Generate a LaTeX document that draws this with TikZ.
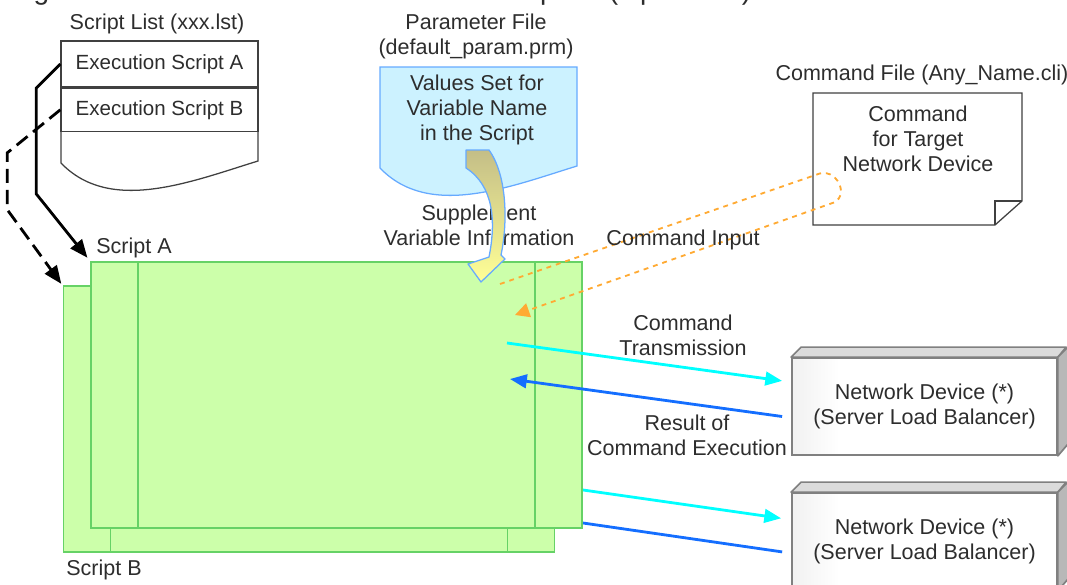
\documentclass[tikz,border=0pt]{standalone}
\usepackage{fontspec}
\setmainfont{Liberation Sans}
\usepackage{xcolor}
\usetikzlibrary{arrows.meta,positioning,calc}

\definecolor{scriptfill}{RGB}{204,255,170}
\definecolor{scriptedge}{RGB}{102,210,102}
\definecolor{paramfill}{RGB}{204,242,255}
\definecolor{paramedge}{RGB}{102,170,255}
\definecolor{sendcol}{RGB}{0,255,255}
\definecolor{recvcol}{RGB}{20,110,255}
\definecolor{cmdcol}{RGB}{255,170,51}
\definecolor{inkcol}{RGB}{45,45,45}
\definecolor{suppltop}{RGB}{196,190,135}
\definecolor{supplbot}{RGB}{255,255,150}

\pgfdeclarehorizontalshading{devshade}{100bp}{color(0bp)=(black!32); color(14bp)=(black!20); color(24bp)=(black!6); color(34bp)=(white); color(100bp)=(white)}

\begin{document}
\begin{tikzpicture}[
  x=0.025cm, y=-0.025cm,
  font=\fontsize{15.3}{17.7}\selectfont,
  text=inkcol,
  note/.style={align=center, inner sep=1pt},
  docline/.style={draw=black!75, line width=0.9pt},
  rowbox/.style={
    draw=black!75,
    line width=0.9pt,
    minimum width=4.925cm,
    inner sep=0pt,
    font=\fontsize{14.6}{17}\selectfont
  },
  scriptbox/.style={
    draw=scriptedge,
    fill=scriptfill,
    line width=1pt,
    minimum width=12.275cm,
    minimum height=6.65cm,
    inner sep=0pt
  },
  scriptline/.style={draw=scriptedge, line width=1pt},
  device/.style={
    draw=black!50,
    line width=1.2pt,
    shade,
    shading=devshade,
    align=center,
    minimum width=6.625cm,
    minimum height=2.425cm,
    inner sep=0pt
  },
  devside/.style={draw=black!50, line width=1.2pt, line join=round},
  listarr/.style={-{Triangle[length=4.5mm,width=3.6mm]}, line width=2pt, draw=black},
  sendarr/.style={-{Triangle[length=4.2mm,width=3.4mm]}, line width=2pt, draw=sendcol},
  recvarr/.style={line width=2pt, draw=recvcol},
  cmdarr/.style={-{Triangle[length=3.6mm,width=3.6mm]}, line width=1.3pt, draw=cmdcol, dash pattern=on 3.5pt off 3.5pt}
]

\useasboundingbox (0,0) rectangle (1067,585);
\clip (0,0) rectangle (1067,585);

\node[anchor=base west, inner sep=0pt, font=\fontsize{20}{24}\selectfont] (title) at (10,-1)
  {Figure 1.4 Structure of an Automation Template (Operation)};

\draw[docline, fill=white] (61,41) -- (258,41) -- (258,161)
  .. controls (190,182) and (110,214) .. (61,163) -- cycle;
\node[note] (listname) at (157,24) {Script List (xxx.lst)};
\node[rowbox, minimum height=1.15cm] (rowA) at (159.5,64) {Execution Script A};
\node[rowbox, minimum height=1.075cm, below=0pt of rowA] (rowB) {Execution Script B};

\draw[docline, draw=paramedge, fill=paramfill] (380,67) -- (577,67) -- (577,166)
  .. controls (509,187) and (429,219) .. (380,168) -- cycle;
\node[note] (paramname) at (476,36) {Parameter File\\(default\_param.prm)};
\node[note] (paramtext) at (477,110) {Values Set for\\Variable Name\\in the Script};

\draw[docline, fill=white] (813,93) -- (1022,93) -- (1022,201) -- (995,225) -- (813,225) -- cycle;
\draw[docline] (995,225) -- (995,201) -- (1022,201);
\node[note] (cmdname) at (922,75) {Command File (Any\_Name.cli)};
\node[note] (cmdtext) at (918,139) {Command\\for Target\\Network Device};

\node[scriptbox] (scrB) at (309,419) {};
\draw[scriptline] ([xshift=1.19cm]scrB.north west) -- ([xshift=1.19cm]scrB.south west);
\draw[scriptline] ([xshift=-1.19cm]scrB.north east) -- ([xshift=-1.19cm]scrB.south east);
\node[scriptbox] (scrA) at (336.5,395) {};
\draw[scriptline] ([xshift=1.19cm]scrA.north west) -- ([xshift=1.19cm]scrA.south west);
\draw[scriptline] ([xshift=-1.19cm]scrA.north east) -- ([xshift=-1.19cm]scrA.south east);
\node[note] (nameA) at (134,248) {Script A};
\node[note] (nameB) at (104,570) {Script B};

\draw[listarr] (rowA.west) -- ++(-24,24) -- ++(0,106) -- ([shift={(-2pt,2.5pt)}]scrA.north west);
\draw[listarr, dash pattern=on 10pt off 5pt] (rowB.west) -- ++(-53,43) -- ++(0,57)
  -- ([shift={(-1pt,1pt)}]scrB.north west);

\node[note] (suppl) at (479,225) {Supplement\\Variable Information};
\draw[draw=paramedge, line width=0.9pt, line join=round, top color=suppltop, bottom color=supplbot]
  (466,150) -- (489,150) .. controls (507,175) and (508,222) .. (501,255) -- (505,259)
  -- (481,282) -- (468,264) -- (489,257) .. controls (496,222) and (494,186) .. (466,168) -- cycle;

\coordinate (cmdfrom) at (500,284);
\coordinate (cmdto) at (515,315);
\draw[cmdarr, rounded corners=0.2cm] (cmdfrom) -- (827,171) -- (841,183) -- (841,200) -- (cmdto);
\node[note] (cmdinput) at (683,240) {Command Input};

\node[device] (dev1) at (924.5,406.5) {Network Device (*)\\(Server Load Balancer)};
\draw[devside, fill=black!14] (dev1.north west) -- ++(10,-10) -- ++(265,0) -- (dev1.north east) -- cycle;
\draw[devside, fill=black!28] (dev1.north east) -- ++(10,-10) -- ++(0,97) -- (dev1.south east) -- cycle;
\node[device] (dev2) at (924.5,541.5) {Network Device (*)\\(Server Load Balancer)};
\draw[devside, fill=black!14] (dev2.north west) -- ++(10,-10) -- ++(265,0) -- (dev2.north east) -- cycle;
\draw[devside, fill=black!28] (dev2.north east) -- ++(10,-10) -- ++(0,97) -- (dev2.south east) -- cycle;

\coordinate (sendA) at (507,343);
\coordinate (recvA) at (510,379);
\coordinate (sendB) at (583,490);
\coordinate (recvB) at (583,523);
\draw[sendarr] (sendA) -- ([xshift=-0.225cm, yshift=0.64cm]dev1.west);
\draw[recvarr, -{Triangle[length=4.2mm,width=3.4mm]}] ([xshift=-0.225cm, yshift=-0.25cm]dev1.west) -- (recvA);
\draw[sendarr] (sendB) -- ([xshift=-0.25cm, yshift=0.58cm]dev2.west);
\draw[recvarr] (recvB) -- ([xshift=-0.225cm, yshift=-0.26cm]dev2.west);
\node[note] (sendlabel) at (683,335) {Command\\Transmission};
\node[note] (recvlabel) at (687,435) {Result of\\Command Execution};

\end{tikzpicture}
\end{document}
